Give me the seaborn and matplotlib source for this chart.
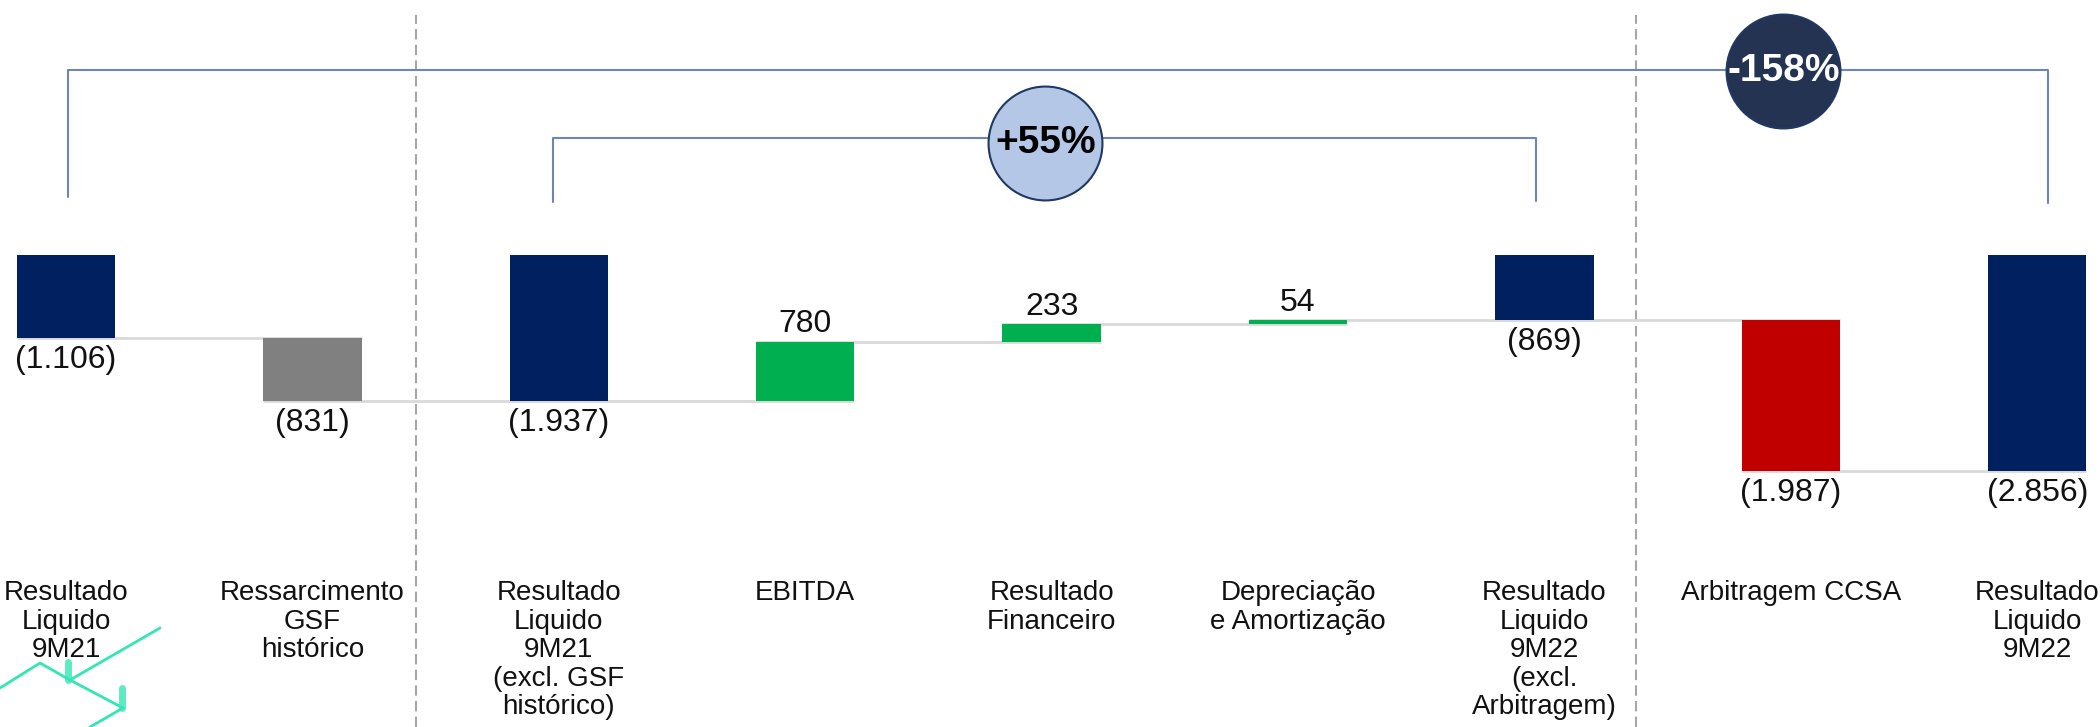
import numpy as np
import pandas as pd
import matplotlib
matplotlib.use("Agg")
import matplotlib.pyplot as plt
import seaborn as sns

# ---------------- data ----------------
categories = [
    "Resultado\nLiquido\n9M21",
    "Ressarcimento\nGSF\nhistórico",
    "Resultado\nLiquido\n9M21\n(excl. GSF\nhistórico)",
    "EBITDA",
    "Resultado\nFinanceiro",
    "Depreciação\ne Amortização",
    "Resultado\nLiquido\n9M22\n(excl.\nArbitragem)",
    "Arbitragem CCSA",
    "Resultado\nLiquido\n9M22",
]
values = [-1106, -831, -1937, 780, 233, 54, -869, -1987, -2856]
kinds = ["total", "gsf", "total", "up", "up", "up", "total", "down", "total"]
value_labels = ["(1.106)", "(831)", "(1.937)", "780", "233", "54", "(869)", "(1.987)", "(2.856)"]
comparisons = [("-158%", 0, 8), ("+55%", 2, 6)]

kind_colors = {"total": "#002060", "gsf": "#808080", "up": "#00B050", "down": "#C00000"}

# ---------------- waterfall geometry ----------------
bottoms, ends = [], []
level = 0
for v, k in zip(values, kinds):
    if k == "total":
        bottoms.append(0)
        level = v
    else:
        bottoms.append(level)
        level = level + v
    ends.append(level)

df = pd.DataFrame({"cat": categories, "height": values, "kind": kinds})

sns.set_theme(style="white")
plt.rcParams["font.family"] = ["Liberation Sans", "DejaVu Sans"]

W, H = 2100, 727
fig = plt.figure(figsize=(W / 100, H / 100), dpi=100)
ax = fig.add_axes([0, 0, 1, 1])

bar_w = 0.40
sns.barplot(data=df, x="cat", y="height", hue="cat", order=categories, hue_order=categories,
            palette=[kind_colors[k] for k in kinds], width=bar_w, errorbar=None,
            legend=False, ax=ax, saturation=1, zorder=3)

for p in ax.patches:
    i = int(round(p.get_x() + p.get_width() / 2))
    p.set_y(bottoms[i])
    p.set_linewidth(0)

# axis scaling (pixel layout)
x0_px, step_px = 66, 246.4
zero_px, px_per_unit = 254.5, 0.0757
ax.set_xlim(-x0_px / step_px, (W - x0_px) / step_px)
ax.set_ylim(-(H - zero_px) / px_per_unit, zero_px / px_per_unit)
ax.axis("off")

# connectors
for i in range(len(values) - 1):
    ax.plot([i - bar_w / 2, i + 1 + bar_w / 2], [ends[i], ends[i]],
            color="#D9D9D9", lw=2, zorder=1, solid_capstyle="butt")

# value labels
for i, (v, lab) in enumerate(zip(values, value_labels)):
    if v < 0:
        ax.annotate(lab, (i, bottoms[i] + v), xytext=(0, -5), textcoords="offset points",
                    ha="center", va="top", fontsize=23, color="#111111")
    else:
        ax.annotate(lab, (i, bottoms[i] + v), xytext=(0, 2), textcoords="offset points",
                    ha="center", va="bottom", fontsize=23, color="#111111")

# category labels
xt = ax.get_xaxis_transform()
for i, c in enumerate(categories):
    ax.text(i, 1 - 580 / H, c, transform=xt, ha="center", va="top",
            fontsize=20, linespacing=1.13, color="#111111")

# dashed separators
for xs in [1.42, 6.37]:
    ax.axvline(xs, ymin=0, ymax=1 - 15 / H, color="#A6A6A6", lw=1.5,
               linestyle=(0, (5, 2.5)), zorder=0)

# comparison brackets
br_color = "#6F87B0"
brackets = [
    ("-158%", 0.008, 8.045, 70, 197, 203, 6.97, 71, "#243352", "white"),
    ("+55%", 1.976, 5.966, 138, 202, 201, 3.975, 143, "#B4C7E7", "black"),
]
for lab, xl, xr, yl, ybl, ybr, cx, cy, face, tc in brackets:
    yy = 1 - yl / H
    ax.plot([xl, xl, xr, xr], [1 - ybl / H, yy, yy, 1 - ybr / H], transform=xt,
            color=br_color, lw=1.5, zorder=4)
    ax.scatter([cx], [1 - cy / H], s=82 ** 2, transform=xt, color=face,
               edgecolor="#1F3864", linewidth=1.5, zorder=5)
    ax.text(cx, 1 - cy / H, lab, transform=xt, ha="center", va="center",
            fontsize=28, fontweight="bold", color=tc, zorder=6)

# decorative logo (bottom-left)
def fp(x, y):
    return x / W, 1 - y / H

logo = "#34E6B4"
pts = [fp(0, 688), fp(40, 663), fp(70, 680), fp(123, 708), fp(90, 727)]
fig.add_artist(plt.Line2D([p[0] for p in pts], [p[1] for p in pts], color=logo, lw=2))
a, b = fp(70, 680), fp(160, 628)
fig.add_artist(plt.Line2D([a[0], b[0]], [a[1], b[1]], color=logo, lw=2))
for (x, y1, y2) in [(68, 662, 680), (122, 688, 708)]:
    p1, p2 = fp(x, y1), fp(x, y2)
    fig.add_artist(plt.Line2D([p1[0], p2[0]], [p1[1], p2[1]], color=logo, lw=5, alpha=0.8))

fig.savefig("out.png", dpi=100)
